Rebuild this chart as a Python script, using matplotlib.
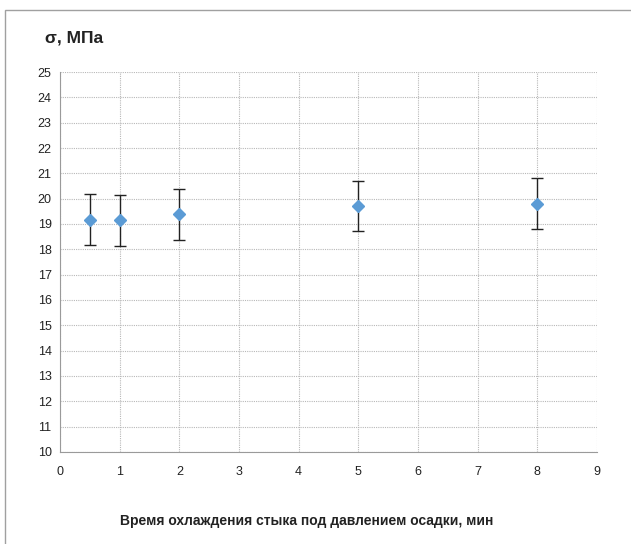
import matplotlib
matplotlib.use("Agg")
import matplotlib.pyplot as plt
from matplotlib.patches import Rectangle

# data
time_min = [0.5, 1, 2, 5, 8]
stress = [19.17, 19.14, 19.38, 19.71, 19.80]
stress_err = [1.0, 1.0, 1.0, 1.0, 1.0]

plt.rcParams['font.family'] = ['Liberation Sans', 'DejaVu Sans']

fig = plt.figure(figsize=(6.31, 5.44), dpi=100)
# outer chart frame (only top and left edges are visible)
fig.patches.append(Rectangle((5 / 631, -0.05), 1.1, 1.05 - 10 / 544, transform=fig.transFigure,
                             fill=False, edgecolor='#a0a0a0', linewidth=1.0))

ax = fig.add_axes([60 / 631, 1 - 452 / 544, (597 - 60) / 631, (452 - 72) / 544])

ax.errorbar(time_min, stress, yerr=stress_err, fmt='D', color='#5b9bd5',
            markersize=6, ecolor='#222222', elinewidth=1.0, capsize=4, capthick=1.0,
            zorder=3)

ax.set_xlim(0, 9)
ax.set_ylim(10, 25)
ax.set_xticks(range(0, 10))
ax.set_yticks(range(10, 26))
ax.grid(True, color='#b8b8b8', linestyle=(0, (1, 1)), linewidth=0.8)
ax.set_axisbelow(True)
for s in ['top', 'right']:
    ax.spines[s].set_visible(False)
for s in ['left', 'bottom']:
    ax.spines[s].set_color('#9a9a9a')
ax.tick_params(length=0, labelsize=9, colors='#222222', pad=6)
ax.tick_params(axis='x', pad=10)

fig.text(45 / 631, 1 - 38 / 544, 'σ, МПа', fontsize=12.5, fontweight='bold',
         color='#222222', va='center', ha='left')
fig.text(307 / 631, 1 - 521 / 544,
         'Время охлаждения стыка под давлением осадки, мин',
         fontsize=10, fontweight='bold', color='#222222', va='center', ha='center')

fig.savefig('out.png', dpi=100)
